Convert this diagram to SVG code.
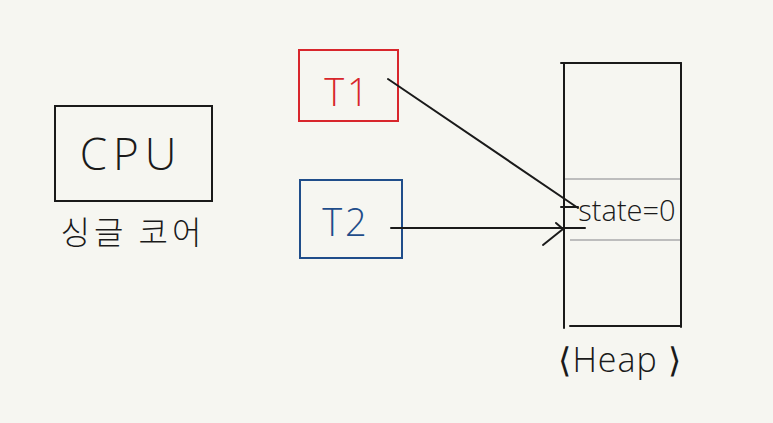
<svg xmlns="http://www.w3.org/2000/svg" width="773" height="423" viewBox="0 0 773 423">
<style>
.box{fill:none;stroke-width:2}
.ln{stroke:#1a1a1a;stroke-width:2;fill:none;stroke-linecap:round}
.t{font-family:"Open Sans","Liberation Sans",sans-serif;font-weight:300;text-anchor:middle}
.k{font-family:"Noto Sans CJK KR",sans-serif;font-weight:300;text-anchor:middle}
</style>
<rect width="773" height="423" fill="#f6f6f1"/>
<g id="cpu">
<rect class="box" x="55" y="106" width="157" height="95" stroke="#1a1a1a"/>
<text class="t" x="131" y="170" font-size="44" fill="#1a1a1a" letter-spacing="6">CPU</text>
<text class="k" x="133" y="244" font-size="32" fill="#1a1a1a" letter-spacing="4">싱글 코어</text>
</g>
<g id="t1">
<rect class="box" x="299" y="50" width="99" height="71" stroke="#d8262c"/>
<text class="t" x="348" y="106" font-size="38" fill="#d8262c" letter-spacing="3">T1</text>
</g>
<g id="t2">
<rect class="box" x="300" y="180" width="102" height="78" stroke="#1f4d8a"/>
<text class="t" x="346" y="236" font-size="38" fill="#1f4d8a" letter-spacing="3">T2</text>
</g>
<g id="heap">
<line x1="564" y1="179" x2="681" y2="179" stroke="#bdbdbd" stroke-width="2"/>
<line x1="570" y1="240" x2="681" y2="240" stroke="#bdbdbd" stroke-width="2"/>
<line class="ln" x1="561" y1="63" x2="681" y2="63"/>
<line class="ln" x1="564" y1="63" x2="564" y2="328"/>
<line class="ln" x1="681" y1="63" x2="681" y2="327"/>
<line class="ln" x1="570" y1="326" x2="681" y2="326"/>
<text class="t" x="627" y="221" font-size="29" fill="#1a1a1a">state=0</text>
<text class="t" x="620" y="372" font-size="34" fill="#1a1a1a" letter-spacing="1">⟨Heap ⟩</text>
</g>
<g id="connectors">
<line class="ln" x1="388" y1="79" x2="578" y2="208"/>
<line class="ln" x1="561" y1="207" x2="578" y2="207"/>
<line class="ln" x1="391" y1="228" x2="585" y2="228"/>
<polyline class="ln" points="556,223 563,229 543,245"/>
</g>
</svg>
